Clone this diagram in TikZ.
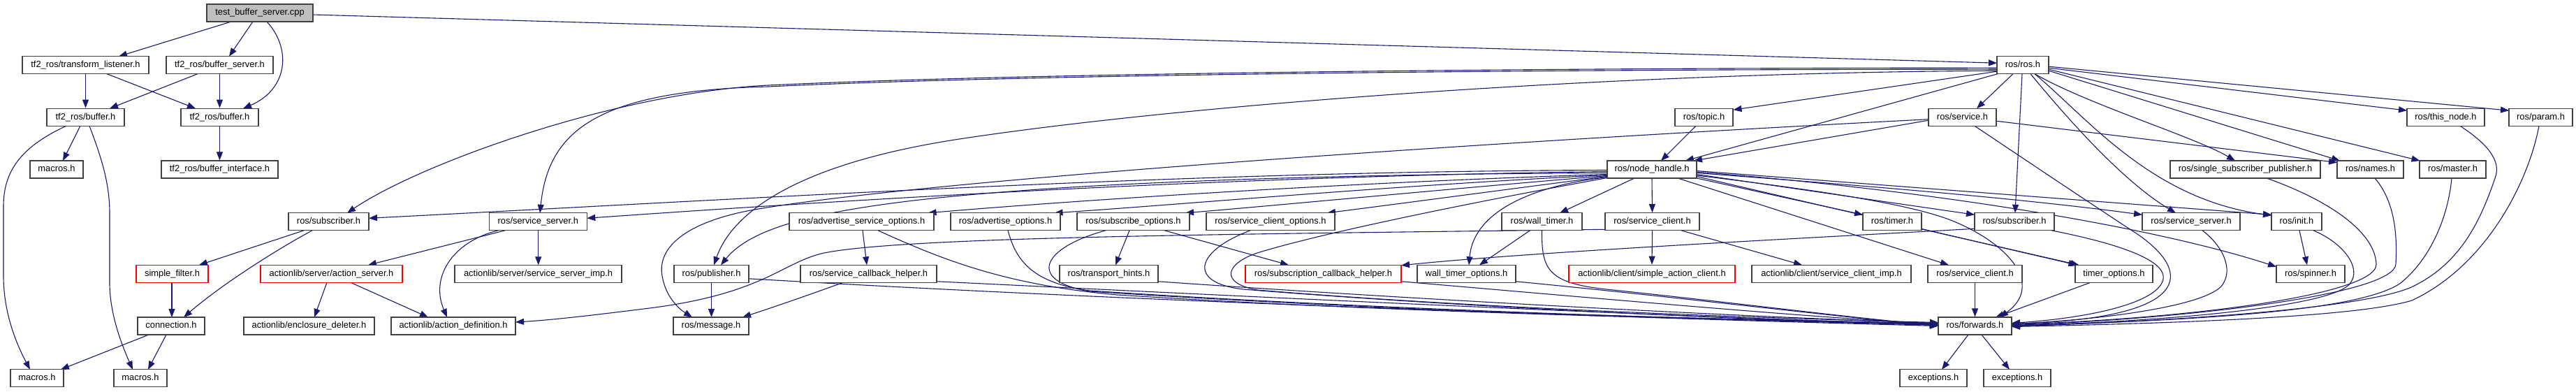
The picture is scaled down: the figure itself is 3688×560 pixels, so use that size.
\documentclass[tikz,border=0pt]{standalone}
\usepackage{fontspec}
\setmainfont{Liberation Sans}
\usetikzlibrary{arrows.meta,calc,backgrounds}
\definecolor{edgec}{HTML}{191970}
\definecolor{boxc}{HTML}{404040}
\definecolor{graybox}{HTML}{BFBFBF}
\definecolor{redbox}{HTML}{FF0000}
\begin{document}
\begin{tikzpicture}[x=1pt,y=-1pt,
  box/.style={draw=boxc, fill=white, line width=1.3pt, minimum height=25pt, inner sep=0pt,
    font=\fontsize{12.9}{15}\selectfont, text height=9.4pt, text depth=2.7pt},
  redb/.style={box, draw=redbox},
  e/.style={draw=edgec, line width=1.1pt, -{Triangle[length=12pt,width=9pt]}}]
\useasboundingbox (0,0) rectangle (3688,560);
% ---------------- nodes ----------------
\node[box, fill=graybox, minimum width=152pt] (test) at (372,18.5) {test\_buffer\_server.cpp};
\node[box, minimum width=181pt] (tl) at (122.5,93.2) {tf2\_ros/transform\_listener.h};
\node[box, minimum width=153pt] (bs) at (314.5,93.2) {tf2\_ros/buffer\_server.h};
\node[box, minimum width=74pt] (ros) at (2896,93.2) {ros/ros.h};
\node[box, minimum width=111pt] (bufL) at (122.5,167.7) {tf2\_ros/buffer.h};
\node[box, minimum width=111pt] (bufR) at (314.5,167.7) {tf2\_ros/buffer.h};
\node[box, minimum width=83pt] (topic) at (2439.5,167.7) {ros/topic.h};
\node[box, minimum width=97pt] (service) at (2809.5,167.7) {ros/service.h};
\node[box, minimum width=111pt] (thisnode) at (3501.5,167.7) {ros/this\_node.h};
\node[box, minimum width=91pt] (param) at (3637.5,167.7) {ros/param.h};
\node[box, minimum width=76pt] (macA) at (81,242.5) {macros.h};
\node[box, minimum width=167pt] (bufint) at (314.5,242.5) {tf2\_ros/buffer\_interface.h};
\node[box, minimum width=128pt] (nh) at (2365,242.5) {ros/node\_handle.h};
\node[box, minimum width=215pt] (ssp) at (3214.5,242.5) {ros/single\_subscriber\_publisher.h};
\node[box, minimum width=95pt] (names) at (3393.5,242.5) {ros/names.h};
\node[box, minimum width=95pt] (master) at (3511.5,242.5) {ros/master.h};
\node[box, minimum width=115pt] (subL) at (470.5,317.3) {ros/subscriber.h};
\node[box, minimum width=140pt] (ssL) at (770.3,317.3) {ros/service\_server.h};
\node[box, minimum width=207pt] (aso) at (1233.5,317.3) {ros/advertise\_service\_options.h};
\node[box, minimum width=157pt] (ao) at (1439.5,317.3) {ros/advertise\_options.h};
\node[box, minimum width=161pt] (so) at (1622.5,317.3) {ros/subscribe\_options.h};
\node[box, minimum width=184pt] (sco) at (1819,317.3) {ros/service\_client\_options.h};
\node[box, minimum width=115pt] (wt) at (2207.5,317.3) {ros/wall\_timer.h};
\node[box, minimum width=135pt] (scL) at (2365.5,317.3) {ros/service\_client.h};
\node[box, minimum width=84pt] (timer) at (2709,317.3) {ros/timer.h};
\node[box, minimum width=114pt] (subR) at (2884,317.3) {ros/subscriber.h};
\node[box, minimum width=140pt] (ssR) at (3137,317.3) {ros/service\_server.h};
\node[box, minimum width=72pt] (init) at (3288,317.3) {ros/init.h};
\node[redb, minimum width=103pt] (sfilter) at (246.5,391.8) {simple\_filter.h};
\node[redb, minimum width=203pt] (actsrv) at (474.5,391.8) {actionlib/server/action\_server.h};
\node[box, minimum width=239pt] (ssimp) at (770.5,391.8) {actionlib/server/service\_server\_imp.h};
\node[box, minimum width=107pt] (pub) at (1018.5,391.8) {ros/publisher.h};
\node[box, minimum width=195pt] (scbh) at (1243.5,391.8) {ros/service\_callback\_helper.h};
\node[box, minimum width=141pt] (th) at (1587.5,391.8) {ros/transport\_hints.h};
\node[redb, minimum width=223pt] (subcb) at (1894.5,391.8) {ros/subscription\_callback\_helper.h};
\node[box, minimum width=141pt] (wto) at (2099.5,391.8) {wall\_timer\_options.h};
\node[redb, minimum width=238pt] (sac) at (2365,391.8) {actionlib/client/simple\_action\_client.h};
\node[box, minimum width=228pt] (scimp) at (2622,391.8) {actionlib/client/service\_client\_imp.h};
\node[box, minimum width=135pt] (scR) at (2827.5,391.8) {ros/service\_client.h};
\node[box, minimum width=111pt] (topt) at (3026.5,391.8) {timer\_options.h};
\node[box, minimum width=98pt] (spinner) at (3308,391.8) {ros/spinner.h};
\node[box, minimum width=96pt] (conn) at (245,466.5) {connection.h};
\node[box, minimum width=187pt] (encdel) at (442.5,466.5) {actionlib/enclosure\_deleter.h};
\node[box, minimum width=178pt] (actdef) at (649,466.5) {actionlib/action\_definition.h};
\node[box, minimum width=108pt] (msg) at (1018,466.5) {ros/message.h};
\node[box, minimum width=105pt] (fwd) at (2827.5,466.5) {ros/forwards.h};
\node[box, minimum width=76pt] (macB) at (53,541.3) {macros.h};
\node[box, minimum width=76pt] (macC) at (201,541.3) {macros.h};
\node[box, minimum width=96pt] (excA) at (2768,541.3) {exceptions.h};
\node[box, minimum width=96pt] (excB) at (2888,541.3) {exceptions.h};
% ---------------- edges ----------------
\begin{scope}[on background layer]
\fill[white] (0,0) rectangle (3688,560);
% top part
\draw[e] ($(test)+(-41,12.5)$) -- ($(tl)+(47.5,-12.5)$);
\draw[e] ($(test)+(-10,12.5)$) -- ($(bs)+(13.5,-12.5)$);
\draw[e] ($(test)+(10,12.5)$) .. controls (418,70) and (412,128) .. ($(bufR)+(33.5,-12.5)$);
\draw[e] ($(test)+(76,2.5)$) -- ($(ros)+(-37,-3)$);
\draw[e] (tl.south) -- (bufL.north);
\draw[e] ($(tl)+(30.5,12.5)$) -- ($(bufR)+(-34.5,-12.5)$);
\draw[e] ($(bs)+(-31.5,12.5)$) -- ($(bufL)+(34.5,-12.5)$);
\draw[e] (bs.south) -- (bufR.north);
\draw[e] ($(bufL)+(-7.5,12.5)$) -- ($(macA)+(9,-12.5)$);
\draw[e] ($(bufL)+(-27.5,12.5)$) .. controls (30,210) and (5,245) .. (5,295) -- (5,395) .. controls (5,450) and (25,495) .. ($(macB)+(-10,-12.5)$);
\draw[e] ($(bufL)+(5.5,12.5)$) .. controls (145,225) and (157,262) .. (157,305) -- (157,405) .. controls (157,450) and (175,495) .. ($(macC)+(-11,-12.5)$);
\draw[e] (bufR.south) -- (bufint.north);
% left cluster
\draw[e] ($(subL)+(-35.5,12.5)$) -- ($(sfilter)+(38.5,-12.5)$);
\draw[e] ($(subL)+(-23.5,12.5)$) .. controls (400,355) and (320,405) .. ($(conn)+(18,-12.5)$);
\draw[e] ($(sfilter)+(-0.5,12.5)$) -- ($(conn)+(1,-12.5)$);
\draw[e] ($(conn)+(-32,12.5)$) -- ($(macB)+(34,-12.5)$);
\draw[e] ($(conn)+(-7,12.5)$) -- ($(macC)+(11,-12.5)$);
\draw[e] ($(actsrv)+(-6.5,12.5)$) -- ($(encdel)+(7.5,-12.5)$);
\draw[e] ($(actsrv)+(27.5,12.5)$) -- ($(actdef)+(-36,-12.5)$);
\draw[e] ($(ssL)+(-47,12.5)$) -- ($(actsrv)+(52.5,-12.5)$);
\draw[e] ($(ssL)+(-57,12.5)$) .. controls (650,345) and (615,395) .. ($(actdef)+(-9,-12.5)$);
\draw[e] ($(ssL)+(0.4,12.5)$) -- ($(ssimp)+(0.2,-12.5)$);
% ros.h
\draw[e] ($(ros)+(-37,4)$) .. controls (2300,97) and (1500,103) .. (1100,122) .. controls (880,133) and (600,235) .. ($(subL)+(26.5,-12.5)$);
\draw[e] ($(ros)+(-37,6)$) .. controls (2300,99) and (1500,105) .. (1100,124) .. controls (850,130) and (785,190) .. ($(ssL)+(2.7,-12.5)$);
\draw[e] ($(ros)+(-37,8)$) .. controls (2300,104) and (1700,150) .. (1380,198) .. controls (1150,232) and (1050,300) .. ($(pub)+(3.5,-12.5)$);
\draw[e] ($(ros)+(-37,9)$) -- ($(topic)+(42,-10.5)$);
\draw[e] ($(ros)+(-36,12.5)$) -- ($(nh)+(48,-12.5)$);
\draw[e] ($(ros)+(-14,12.5)$) -- ($(service)+(20.5,-12.5)$);
\draw[e] ($(ros)+(-1,12.5)$) -- ($(subR)+(1,-12.5)$);
\draw[e] ($(ros)+(11,12.5)$) .. controls (2960,170) and (3040,260) .. ($(ssR)+(-22,-12.5)$);
\draw[e] ($(ros)+(17,12.5)$) .. controls (2990,150) and (3140,195) .. ($(ssp)+(-14.5,-12.5)$);
\draw[e] ($(ros)+(17,12.5)$) .. controls (2990,170) and (3080,285) .. ($(init)+(-36,-9)$);
\draw[e] ($(ros)+(37,8)$) -- ($(names)+(-43.5,-12.5)$);
\draw[e] ($(ros)+(37,6)$) -- ($(master)+(-47,-12.5)$);
\draw[e] ($(ros)+(37,4)$) -- ($(thisnode)+(-55.5,-9.5)$);
\draw[e] ($(ros)+(37,2)$) -- ($(param)+(-45.5,-9.5)$);
\draw[e] ($(topic)+(-11.5,12.5)$) -- ($(nh)+(13,-12.5)$);
% service.h
\draw[e] ($(service)+(-48.5,4.5)$) -- ($(nh)+(60,-12.5)$);
\draw[e] ($(service)+(48.5,5.5)$) -- ($(names)+(-47.5,-10)$);
\draw[e] ($(service)+(-48.5,3)$) .. controls (2000,210) and (1300,262) .. (1080,300) .. controls (990,316) and (940,350) .. (948,395) .. controls (953,425) and (972,442) .. ($(msg)+(-27,-12.5)$);
\draw[e] ($(service)+(17.5,12.5)$) .. controls (2900,229) and (3000,296) .. (3060,335) .. controls (3140,390) and (3140,455) .. ($(fwd)+(52.5,-3)$);
% node_handle.h
\draw[e] ($(nh)+(-64,1)$) .. controls (1700,245) and (1100,283) .. ($(subL)+(57.5,-5)$);
\draw[e] ($(nh)+(-64,3)$) .. controls (1800,252) and (1300,280) .. ($(ssL)+(70,-5)$);
\draw[e] ($(nh)+(-64,5)$) .. controls (1900,249) and (1600,262) .. (1460,273) .. controls (1200,292) and (1080,320) .. ($(pub)+(13.5,-12.5)$);
\draw[e] ($(nh)+(-64,7)$) .. controls (1900,262) and (1500,290) .. ($(aso)+(95,-12.5)$);
\draw[e] ($(nh)+(-64,8)$) .. controls (2000,265) and (1700,292) .. ($(ao)+(70,-12.5)$);
\draw[e] ($(nh)+(-64,9)$) .. controls (2100,268) and (1850,292) .. ($(so)+(74.5,-12.5)$);
\draw[e] ($(nh)+(-64,10)$) .. controls (2150,272) and (2000,292) .. ($(sco)+(81,-12.5)$);
\draw[e] ($(nh)+(-64,11)$) .. controls (2200,265) and (2110,300) .. ($(wto)+(3.5,-12.5)$);
\draw[e] ($(nh)+(-64,12)$) .. controls (2050,300) and (1870,340) .. (1800,362) .. controls (1755,377) and (1745,405) .. (1800,415) .. controls (2100,440) and (2500,455) .. ($(fwd)+(-52.5,-5)$);
\draw[e] ($(nh)+(-25,12.5)$) -- ($(wt)+(25.5,-12.5)$);
\draw[e] (nh.south) -- (scL.north);
\draw[e] ($(nh)+(37,12.5)$) -- ($(scR)+(-37.5,-12.5)$);
\draw[e] ($(nh)+(64,12.5)$) -- ($(timer)+(-42,-10)$);
\draw[e] ($(nh)+(64,10)$) -- ($(topt)+(-53,-12.5)$);
\draw[e] ($(nh)+(64,8.5)$) .. controls (2600,272) and (2740,292) .. (2800,318) .. controls (2880,352) and (2925,410) .. ($(fwd)+(35.5,-12.5)$);
\draw[e] ($(nh)+(64,7)$) -- ($(subR)+(-57,-10)$);
\draw[e] ($(nh)+(64,5)$) .. controls (2700,268) and (2900,285) .. ($(ssR)+(-70,-10)$);
\draw[e] ($(nh)+(64,3.5)$) .. controls (2800,275) and (3100,330) .. ($(spinner)+(-49,-10)$);
\draw[e] ($(nh)+(64,2)$) -- ($(init)+(-36,-10)$);
% row 4/5 to message / forwards
\draw[e] ($(pub)+(0,12.5)$) -- ($(msg)+(0.5,-12.5)$);
\draw[e] ($(pub)+(53.5,7)$) .. controls (1600,430) and (2300,455) .. ($(fwd)+(-52.5,-4)$);
\draw[e] ($(aso)+(1.5,12.5)$) -- ($(scbh)+(-2.5,-12.5)$);
\draw[e] ($(aso)+(23.5,12.5)$) .. controls (1350,372) and (1440,408) .. (1600,422) .. controls (2000,448) and (2500,458) .. ($(fwd)+(-52.5,-3)$);
\draw[e] ($(scbh)+(-36.5,12.5)$) .. controls (1150,425) and (1100,442) .. ($(msg)+(45,-12.5)$);
\draw[e] ($(scbh)+(97.5,11)$) .. controls (1700,420) and (2300,450) .. ($(fwd)+(-52.5,-2)$);
\draw[e] ($(ao)+(3.5,12.5)$) .. controls (1455,375) and (1480,405) .. (1560,416) .. controls (2000,445) and (2500,458) .. ($(fwd)+(-52.5,-1)$);
\draw[e] ($(so)+(-39.5,12.5)$) .. controls (1490,355) and (1470,402) .. (1560,417) .. controls (2000,446) and (2500,459) .. ($(fwd)+(-52.5,0)$);
\draw[e] ($(so)+(-5.5,12.5)$) -- ($(th)+(9.5,-12.5)$);
\draw[e] ($(so)+(44.5,12.5)$) -- ($(subcb)+(-49.5,-12.5)$);
\draw[e] ($(th)+(70.5,11)$) .. controls (1900,420) and (2400,450) .. ($(fwd)+(-52.5,-4)$);
\draw[e] ($(sco)+(-29,12.5)$) .. controls (1710,360) and (1700,405) .. (1780,414) .. controls (2100,440) and (2500,458) .. ($(fwd)+(-52.5,-2)$);
\draw[e] ($(subcb)+(111.5,11)$) .. controls (2300,428) and (2600,455) .. ($(fwd)+(-52.5,-3)$);
\draw[e] ($(wt)+(-17,12.5)$) -- ($(wto)+(18.5,-12.5)$);
\draw[e] ($(wt)+(0,12.5)$) .. controls (2207,385) and (2215,405) .. (2300,414) .. controls (2500,435) and (2650,455) .. ($(fwd)+(-52.5,-1)$);
\draw[e] ($(wto)+(70.5,11)$) .. controls (2400,425) and (2600,450) .. ($(fwd)+(-52.5,0)$);
\draw[e] (scL.south) -- (sac.north);
\draw[e] ($(scL)+(41.5,12.5)$) -- ($(scimp)+(-42,-12.5)$);
\draw[e] ($(scL)+(-67.5,11)$) .. controls (1800,335) and (1300,338) .. (1180,362) .. controls (1120,375) and (1095,420) .. (930,441) .. controls (850,451) and (790,458) .. ($(actdef)+(89,-5.5)$);
\draw[e] ($(timer)+(42,10.5)$) -- ($(topt)+(-50,-12.5)$);
\draw[e] (scR.south) -- (fwd.north);
\draw[e] ($(topt)+(-33.5,12.5)$) -- ($(fwd)+(29.5,-12.5)$);
\draw[e] ($(subR)+(-57,10)$) .. controls (2600,340) and (2200,360) .. ($(subcb)+(111.5,-12)$);
\draw[e] ($(subR)+(53,12.5)$) .. controls (3050,352) and (3110,378) .. (3095,405) .. controls (3080,435) and (2990,455) .. ($(fwd)+(52.5,-4)$);
\draw[e] ($(ssR)+(16,12.5)$) .. controls (3180,350) and (3200,385) .. (3180,410) .. controls (3150,440) and (3000,458) .. ($(fwd)+(52.5,-3)$);
\draw[e] ($(ssp)+(30.5,12.5)$) .. controls (3330,285) and (3400,330) .. (3402,378) .. controls (3404,420) and (3150,455) .. ($(fwd)+(52.5,-2)$);
\draw[e] ($(names)+(6.5,12.5)$) .. controls (3430,290) and (3432,340) .. (3430,378) .. controls (3428,420) and (3150,455) .. ($(fwd)+(52.5,-1)$);
\draw[e] ($(master)+(-1.5,12.5)$) .. controls (3505,310) and (3480,370) .. (3437,405) .. controls (3380,445) and (3150,458) .. ($(fwd)+(52.5,0)$);
\draw[e] ($(thisnode)+(20.5,12.5)$) .. controls (3560,205) and (3582,230) .. (3572,255) .. controls (3550,320) and (3520,380) .. (3450,412) .. controls (3380,440) and (3150,458) .. ($(fwd)+(52.5,0.5)$);
\draw[e] ($(param)+(-2.5,12.5)$) .. controls (3620,260) and (3560,380) .. (3453,430) .. controls (3380,452) and (3150,462) .. ($(fwd)+(52.5,1)$);
\draw[e] ($(init)+(24,12.5)$) .. controls (3360,350) and (3385,390) .. (3360,410) .. controls (3320,440) and (3100,460) .. ($(fwd)+(52.5,-0.5)$);
\draw[e] ($(init)+(4,12.5)$) -- ($(spinner)+(-5,-12.5)$);
\draw[e] ($(fwd)+(-9.5,12.5)$) -- ($(excA)+(12,-12.5)$);
\draw[e] ($(fwd)+(9.5,12.5)$) -- ($(excB)+(-11,-12.5)$);
\end{scope}
\end{tikzpicture}
\end{document}
